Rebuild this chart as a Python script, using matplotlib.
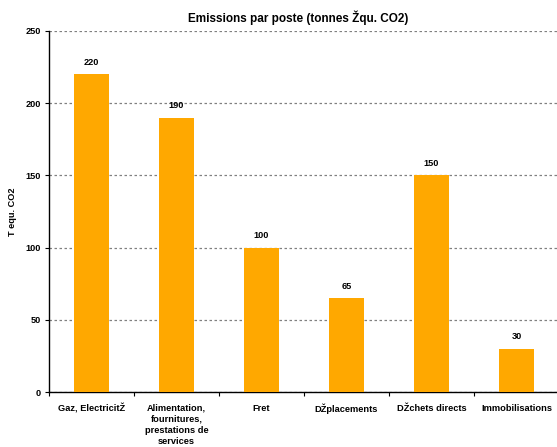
# Emissions par poste - bar chart
import numpy as np
import matplotlib as mpl, matplotlib.pyplot as plt
from matplotlib.ticker import FixedLocator, NullFormatter

ORANGE = "#FFA800"; INK = "#000000"; GRID = "#808080"
mpl.rcParams.update({"font.family": ["Liberation Sans", "DejaVu Sans"],
                     "font.weight": "bold", "axes.linewidth": 1.0})

categories = ["Gaz, ElectricitŽ", "Alimentation,\nfournitures,\nprestations de\nservices",
              "Fret", "DŽplacements", "DŽchets directs", "Immobilisations"]
values = [220, 190, 100, 65, 150, 30]
yticks = [0, 50, 100, 150, 200, 250]

L, TOP, BOT, CW = 49, 31, 392, 85   # axes pixel frame, category width
fig = plt.figure(figsize=(5.57, 4.47), dpi=100)
ax = fig.add_axes([L/557, 1-BOT/447, 1-L/557, (BOT-TOP)/447])
x = np.arange(len(values))
ax.bar(x, values, width=0.41, color=ORANGE, zorder=3)
for xi, v in zip(x, values):
    ax.text(xi, v + 5, f"{v}", ha="center", va="bottom", fontsize=6.6, weight="bold")

ax.set_xlim(-0.5, -0.5 + (557-L)/CW)
ax.set_ylim(0, 250)
ax.set_yticks(yticks)
ax.set_yticklabels([str(t) for t in yticks], fontsize=6.6, weight="bold")
ax.yaxis.grid(True, color=GRID, lw=0.9, ls=(0, (2, 2)), zorder=0)
ax.xaxis.set_major_locator(FixedLocator(np.arange(len(values) + 1) - 0.5))
ax.xaxis.set_major_formatter(NullFormatter())
for xi, c in zip(x, categories):
    ax.text(xi, -8, c, ha="center", va="top", fontsize=6.7, weight="bold", linespacing=1.3)
ax.tick_params(axis="x", length=3, width=0.8)
ax.tick_params(axis="y", length=3, width=0.8, pad=3)
for s in ["top", "right"]:
    ax.spines[s].set_visible(False)
ax.set_ylabel("T equ. CO2", fontsize=6.6, weight="bold")
ax.yaxis.set_label_coords(-(L-17)/(557-L), 0.5)
fig.text(298/557, 1-18/447, "Emissions par poste (tonnes Žqu. CO2)",
         ha="center", va="center", fontsize=8.5, weight="bold")
fig.savefig("out.png", dpi=100)
